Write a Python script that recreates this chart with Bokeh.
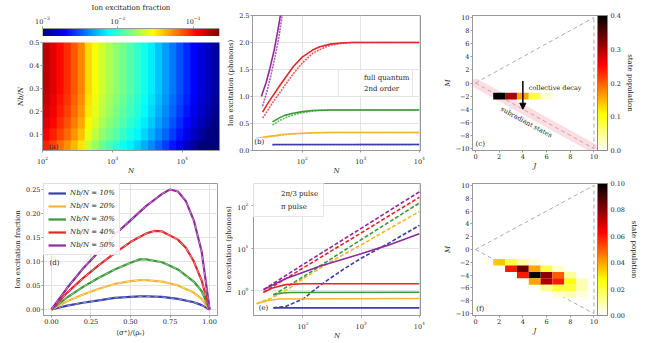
import numpy as np
from bokeh.plotting import figure
from bokeh.layouts import row, column
from bokeh.models import (ColorBar, LinearColorMapper, FixedTicker, LinearAxis, Label,
                          Arrow, NormalHead, Legend, LegendItem, CustomJSTickFormatter,
                          PrintfTickFormatter, Range1d, ColumnDataSource)
from bokeh.embed import file_html
from bokeh.resources import INLINE

# ------------------------------------------------------------------ data
# (a) log10(ion excitation fraction): profile read along N (log10 N bins 2.0..4.6),
#     and the shift of each N_b/N row
a_logN_lo, a_logN_hi = 2.0, 4.6
a_profile_top = [-0.80, -0.88, -0.97, -1.05, -1.15, -1.25, -1.44, -1.55, -1.65, -1.72,
                 -1.79, -1.86, -1.93, -2.00, -2.08, -2.16, -2.25, -2.34, -2.43, -2.52,
                 -2.61, -2.70, -2.78, -2.85, -2.91, -2.96]
a_NbN_rows = [0.05, 0.10, 0.15, 0.20, 0.25, 0.30, 0.35, 0.40, 0.45, 0.50]
a_row_offset = [-0.225, -0.135, -0.08, -0.045, -0.02, 0.0, 0.0, 0.0, 0.0, 0.0]
a_cbar_lo, a_cbar_hi = -3.0, -0.65

# (b) ion excitation (phonons) vs N: 2nd order (solid) and full quantum (dotted)
b_N_purple = [20, 24, 28, 33, 38, 43]
b_so_purple = [1.00, 1.25, 1.52, 1.85, 2.20, 2.55]
b_Nq_purple = [21, 25, 29, 34, 40, 46]
b_fq_purple = [0.82, 1.10, 1.38, 1.72, 2.10, 2.55]
b_N_red = [21, 25, 30, 40, 50, 70, 100, 150, 200, 300, 450, 700, 1000, 10000]
b_so_red = [0.71, 0.85, 0.98, 1.18, 1.33, 1.55, 1.73, 1.86, 1.92, 1.97, 1.99, 2.0, 2.0, 2.0]
b_fq_red = [0.60, 0.72, 0.86, 1.05, 1.20, 1.42, 1.62, 1.80, 1.87, 1.95, 1.98, 2.0, 2.0, 2.0]
b_N_green = [31, 40, 50, 70, 100, 150, 200, 300, 10000]
b_so_green = [0.53, 0.60, 0.65, 0.69, 0.72, 0.74, 0.745, 0.75, 0.75]
b_fq_green = [0.47, 0.55, 0.60, 0.66, 0.70, 0.73, 0.74, 0.75, 0.75]
b_N_orange = [16, 20, 25, 37, 50, 70, 100, 150, 300, 10000]
b_so_orange = [0.22, 0.24, 0.26, 0.28, 0.30, 0.31, 0.32, 0.33, 0.333, 0.333]
b_fq_orange = [0.19, 0.22, 0.24, 0.27, 0.29, 0.305, 0.315, 0.325, 0.333, 0.333]
b_N_blue = [31, 10000]
b_so_blue = [0.11, 0.11]
b_fq_blue = [0.105, 0.11]

# (c) state population, single row
c_J = [2, 3, 4, 5, 6]
c_M = [-2, -2, -2, -2, -2]
c_pop = [0.40, 0.30, 0.16, 0.08, 0.02]
J_max = 10

# (d) ion excitation fraction vs <sigma+>/rho_e
d_labels = ["Nb/N = 10%", "Nb/N = 20%", "Nb/N = 30%", "Nb/N = 40%", "Nb/N = 50%"]
d_x = [0.0, 0.1, 0.2, 0.3, 0.4, 0.5, 0.56, 0.6, 0.7, 0.8, 0.9, 0.95, 1.0]
d_blue = [0, 0.008, 0.014, 0.019, 0.024, 0.026, 0.027, 0.027, 0.026, 0.022, 0.015, 0.009, 0]
d_orange = [0, 0.017, 0.031, 0.043, 0.053, 0.059, 0.061, 0.061, 0.058, 0.050, 0.035, 0.022, 0]
d_green = [0, 0.025, 0.047, 0.066, 0.083, 0.097, 0.104, 0.104, 0.098, 0.083, 0.058, 0.038, 0]
d_x_red = [0.0, 0.1, 0.2, 0.3, 0.4, 0.5, 0.6, 0.65, 0.7, 0.8, 0.85, 0.9, 0.95, 1.0]
d_red = [0, 0.035, 0.065, 0.092, 0.117, 0.140, 0.158, 0.163, 0.162, 0.145, 0.128, 0.100, 0.060, 0]
d_x_purple = [0.0, 0.1, 0.2, 0.3, 0.4, 0.5, 0.6, 0.7, 0.75, 0.8, 0.85, 0.9, 0.95, 1.0]
d_purple = [0, 0.045, 0.085, 0.120, 0.155, 0.185, 0.215, 0.240, 0.249, 0.245, 0.225, 0.185, 0.120, 0]

# (e) ion excitation (phonons): 2pi/3 pulse (dashed) and pi pulse (solid)
e_N_dash_purple = [21, 100, 1000, 10000]
e_dash_purple = [1.05, 4.1, 29.5, 215]
e_N_pi_purple = [21, 50, 200, 1000, 3000, 10000]
e_pi_purple = [1.05, 1.9, 3.8, 7.4, 12.0, 21.9]
e_N_dash_red = [21, 100, 1000, 10000]
e_dash_red = [0.91, 3.4, 23, 160]
e_N_pi_red = [21, 30, 50, 100, 10000]
e_pi_red = [0.91, 1.15, 1.38, 1.45, 1.45]
e_N_dash_green = [31, 100, 1000, 10000]
e_dash_green = [0.78, 2.1, 16, 117]
e_N_pi_green = [31, 40, 60, 10000]
e_pi_green = [0.80, 0.86, 0.90, 0.91]
e_N_dash_orange = [16, 30, 55, 100, 300, 1000, 10000]
e_dash_orange = [0.49, 0.68, 1.07, 1.9, 4.8, 12, 74]
e_N_pi_orange = [16, 25, 40, 10000]
e_pi_orange = [0.49, 0.58, 0.63, 0.65]
e_N_dash_blue = [31, 50, 100, 200, 500, 1000, 3000, 10000]
e_dash_blue = [0.39, 0.42, 0.63, 1.35, 3.2, 5.8, 13.2, 34.7]
e_N_pi_blue = [31, 10000]
e_pi_blue = [0.39, 0.39]

# (f) state population
f_J = [2, 3, 4, 5,   3, 4, 5, 6, 7,   4, 5, 6, 7, 8,   5, 6, 7, 8, 9,   6, 7, 8, 9,   7, 8, 9]
f_M = [-2, -2, -2, -2, -3, -3, -3, -3, -3, -4, -4, -4, -4, -4, -5, -5, -5, -5, -5,
       -6, -6, -6, -6, -7, -7, -7]
f_pop = [0.035, 0.020, 0.010, 0.004,
         0.060, 0.085, 0.040, 0.020, 0.006,
         0.060, 0.100, 0.080, 0.050, 0.010,
         0.040, 0.075, 0.060, 0.025, 0.008,
         0.012, 0.020, 0.020, 0.008,
         0.005, 0.008, 0.004]

# ------------------------------------------------------------------ styles
FONT = "DejaVu Serif"
TXT = "#222222"
C_BLUE, C_ORANGE, C_GREEN, C_RED, C_PURPLE = "#3b3fa8", "#f2b630", "#3a9a3a", "#e0282c", "#8e2a9a"


def jet(t):
    r = np.clip(1.5 - abs(4 * t - 3), 0, 1)
    g = np.clip(1.5 - abs(4 * t - 2), 0, 1)
    b = np.clip(1.5 - abs(4 * t - 1), 0, 1)
    return "#%02x%02x%02x" % (int(r * 255), int(g * 255), int(b * 255))


def hot_r(t):
    s = 1 - t
    r = np.clip(s / 0.365, 0, 1)
    g = np.clip((s - 0.365) / 0.365, 0, 1)
    b = np.clip((s - 0.73) / 0.27, 0, 1)
    return "#%02x%02x%02x" % (int(r * 255), int(g * 255), int(b * 255))


JET = [jet(t) for t in np.linspace(0, 1, 256)]
HOTR = [hot_r(t) for t in np.linspace(0, 1, 256)]


def minus_fmt():
    return CustomJSTickFormatter(code="return tick < 0 ? '\\u2212' + Math.abs(tick) : '' + tick;")


def style_axis(ax):
    ax.major_label_text_font = FONT
    ax.major_label_text_font_size = "6.5px"
    ax.major_label_text_color = TXT
    ax.axis_label_text_font = FONT
    ax.axis_label_text_font_size = "7px"
    ax.axis_label_text_font_style = "normal"
    ax.axis_label_text_color = TXT
    ax.major_tick_out = 2
    ax.major_tick_in = 0
    ax.minor_tick_line_color = None
    ax.axis_line_color = "#999999"
    ax.major_tick_line_color = "#999999"
    ax.major_label_standoff = 1
    ax.axis_label_standoff = 1


def style(p, grid=True, outline="#999999", xlab_standoff=0):
    p.outline_line_color = outline
    p.background_fill_color = "white"
    p.border_fill_color = "white"
    for ax in p.axis:
        style_axis(ax)
    for ax in p.below:
        ax.axis_label_standoff = xlab_standoff
    if grid:
        p.grid.grid_line_color = "#e3e3e3"
    else:
        p.grid.visible = False


def fig(w, h, l, r, t, b, **kw):
    return figure(width=w, height=h, min_border_left=l, min_border_right=r,
                  min_border_top=t, min_border_bottom=b, toolbar_location=None,
                  output_backend="svg", **kw)


def label(p, x, y, text, bg=None, **kw):
    lab = Label(x=x, y=y, text=text, text_font=FONT, text_font_size="7px",
                text_color=TXT, text_align="center", text_baseline="middle", **kw)
    if bg:
        lab.background_fill_color = bg
        lab.background_fill_alpha = 1.0
    p.add_layout(lab)


def legend(p, items, location, gh=9, sp=2, pad=3, **kw):
    lg = Legend(items=items, location=location, label_text_font=FONT,
                label_text_font_size="7px", label_text_color=TXT, glyph_width=18,
                glyph_height=gh, label_height=gh, spacing=sp, padding=pad, margin=0,
                label_standoff=4, border_line_color="#cccccc", background_fill_alpha=0.9, **kw)
    p.add_layout(lg)


W1, W2, W3 = 222, 218, 215
ROW1, ROW2 = 177, 165

# ------------------------------------------------------------------ (a)
jet_mapper = LinearColorMapper(palette=JET, low=a_cbar_lo, high=a_cbar_hi)
CB_H = 36
p_cb = fig(W1, CB_H, 42, 3, 0, 0, x_axis_type="log",
           x_range=Range1d(10 ** a_cbar_lo, 10 ** a_cbar_hi), y_range=Range1d(0, 1),
           x_axis_location="above")
grad = np.linspace(a_cbar_lo, a_cbar_hi, 256).reshape(1, -1)
p_cb.image(image=[grad], x=10 ** a_cbar_lo, y=0, dw=10 ** a_cbar_hi - 10 ** a_cbar_lo, dh=1,
           color_mapper=jet_mapper)
p_cb.yaxis.visible = False
p_cb.xaxis.axis_label = "Ion excitation fraction"
style(p_cb, grid=False, outline=None)

field = np.array([[v + off for v in a_profile_top] for off in a_row_offset])
p_a = fig(W1, ROW1 - CB_H, 42, 3, 6, 22, x_axis_type="log",
          x_range=Range1d(10 ** a_logN_lo, 10 ** 4.53), y_range=Range1d(0.03, 0.5))
p_a.image(image=[field], x=10 ** a_logN_lo, y=a_NbN_rows[0] - 0.025,
          dw=10 ** a_logN_hi - 10 ** a_logN_lo, dh=0.5, color_mapper=jet_mapper)
p_a.yaxis.ticker = FixedTicker(ticks=[0.1, 0.2, 0.3, 0.4, 0.5])
p_a.yaxis.formatter = PrintfTickFormatter(format="%.1f")
p_a.xaxis.axis_label = "N"
p_a.yaxis.axis_label = "Nb/N"
style(p_a, grid=False, outline=None)
p_a.xaxis.axis_label_text_font_style = "italic"
p_a.yaxis.axis_label_text_font_style = "italic"
label(p_a, 10 ** 2.16, 0.045, "(a)")

# ------------------------------------------------------------------ (b)
p_b = fig(W2, ROW1, 30, 20, 15, 22, x_axis_type="log",
          x_range=Range1d(10 ** 1.15, 10 ** 4.02), y_range=Range1d(0, 2.5))
b_series = [
    (b_N_blue, b_so_blue, b_N_blue, b_fq_blue, C_BLUE),
    (b_N_orange, b_so_orange, b_N_orange, b_fq_orange, C_ORANGE),
    (b_N_green, b_so_green, b_N_green, b_fq_green, C_GREEN),
    (b_N_red, b_so_red, b_N_red, b_fq_red, C_RED),
    (b_N_purple, b_so_purple, b_Nq_purple, b_fq_purple, C_PURPLE),
]
for xs, ys, xq, yq, col in b_series:
    p_b.line(xs, ys, color=col, line_width=1.6)
    p_b.line(xq, yq, color=col, line_width=1.6, line_dash="2 1", line_alpha=0.75)
r_fq = p_b.line([], [], color="#b07ab0", line_width=1.4, line_dash="2 1")
r_so = p_b.line([], [], color="#444444", line_width=1.6)
legend(p_b, [LegendItem(label="full quantum", renderers=[r_fq]),
             LegendItem(label="2nd order", renderers=[r_so])], (86, 53))
p_b.yaxis.ticker = FixedTicker(ticks=[0, 0.5, 1.0, 1.5, 2.0, 2.5])
p_b.yaxis.formatter = PrintfTickFormatter(format="%.1f")
p_b.xaxis.axis_label = "N"
p_b.yaxis.axis_label = "Ion excitation (phonons)"
style(p_b)
p_b.xaxis.axis_label_text_font_style = "italic"
label(p_b, 18.4, 0.16, "(b)", bg="white")


# ------------------------------------------------------------------ (c) and (f)
def spin_panel(h, t, b, J, M, pop, high, ticks, fmt, tag, extra=False):
    p = fig(W3, h, 25, 58, t, b, x_range=Range1d(-0.25, J_max + 0.3),
            y_range=Range1d(-J_max - 0.3, J_max + 0.3))
    p.line([0, J_max], [0, J_max], color="#aaaaaa", line_dash="4 3", line_width=1)
    p.line([0, J_max], [0, -J_max], color="#aaaaaa", line_dash="4 3", line_width=1)
    p.line([J_max, J_max], [-J_max, J_max], color="#aaaaaa", line_dash="4 3", line_width=1)
    mapper = LinearColorMapper(palette=HOTR, low=0, high=high)
    if extra:
        p.line([0, J_max], [0, -J_max], color="#f2a0b0", line_width=9, line_alpha=0.35,
               line_cap="round")
    src = ColumnDataSource(dict(J=J, M=M, pop=pop))
    p.rect(x="J", y="M", width=1, height=1, source=src, line_color=None,
           fill_color={"field": "pop", "transform": mapper})
    p.xaxis[0].ticker = FixedTicker(ticks=[0, 2, 4, 6, 8, 10])
    p.yaxis[0].ticker = FixedTicker(ticks=list(range(-10, 11, 2)))
    p.yaxis[0].formatter = minus_fmt()
    p.xaxis[0].axis_label = "J"
    p.yaxis[0].axis_label = "M"
    style(p, grid=False)
    p.xaxis[0].axis_label_text_font_style = "italic"
    p.yaxis[0].axis_label_text_font_style = "italic"
    cb = ColorBar(color_mapper=mapper, ticker=FixedTicker(ticks=ticks), width=10,
                  padding=0, margin=15, label_standoff=3, major_label_text_font=FONT,
                  major_label_text_font_size="6.5px", major_label_text_color=TXT,
                  formatter=PrintfTickFormatter(format=fmt),
                  major_tick_line_color=None, bar_line_color="#888888", location=(0, 0))
    p.add_layout(cb, "right")
    tax = LinearAxis(ticker=FixedTicker(ticks=[]), axis_label="state population")
    style_axis(tax)
    tax.axis_line_color = None
    tax.major_tick_line_color = None
    tax.major_label_text_font_size = "0px"
    tax.axis_label_standoff = 2
    p.add_layout(tax, "right")
    label(p, 0.4, -9.3, tag)
    return p


p_c = spin_panel(ROW1, 15, 24, c_J, c_M, c_pop, 0.4, [0, 0.1, 0.2, 0.3, 0.4], "%.1f", "(c)",
                 extra=True)
p_c.add_layout(Arrow(end=NormalHead(size=6, fill_color="black", line_color="black"),
                     x_start=4, y_start=0.3, x_end=4, y_end=-4, line_width=1.5))
p_c.add_layout(Label(x=4.5, y=-0.7, text="collective decay", text_font=FONT,
                     text_font_size="6.5px", text_color=TXT, text_align="left",
                     text_baseline="middle"))
p_c.add_layout(Label(x=4.3, y=-6.0, text="subradiant states", text_font=FONT,
                     text_font_size="6.5px", text_color=TXT, text_align="center",
                     text_baseline="middle", angle=-0.5))

p_f = spin_panel(ROW2, 6, 19, f_J, f_M, f_pop, 0.10, [0, 0.02, 0.04, 0.06, 0.08, 0.10],
                 "%.2f", "(f)")

# ------------------------------------------------------------------ (d)
p_d = fig(W1, ROW2, 43, 5, 6, 16, x_range=Range1d(-0.05, 1.05),
          y_range=Range1d(-0.0125, 0.2615))
d_series = [(d_x, d_blue, C_BLUE), (d_x, d_orange, C_ORANGE), (d_x, d_green, C_GREEN),
            (d_x_red, d_red, C_RED), (d_x_purple, d_purple, C_PURPLE)]
d_items = []
for (xs, ys, col), lab in zip(d_series, d_labels):
    r = p_d.line(xs, ys, color=col, line_width=2.2)
    p_d.line(xs, ys, color="white", line_width=0.8, line_dash="4 4", line_alpha=0.55)
    d_items.append(LegendItem(label=lab, renderers=[r]))
legend(p_d, d_items, "top_left", gh=10, sp=3, pad=4, label_text_font_style="italic")
p_d.xaxis.ticker = FixedTicker(ticks=[0, 0.25, 0.5, 0.75, 1.0])
p_d.yaxis.ticker = FixedTicker(ticks=[0, 0.05, 0.10, 0.15, 0.20, 0.25])
p_d.xaxis.formatter = PrintfTickFormatter(format="%.2f")
p_d.yaxis.formatter = PrintfTickFormatter(format="%.2f")
p_d.xaxis.axis_label = "⟨σ⁺⟩/⟨ρₑ⟩"
p_d.yaxis.axis_label = "Ion excitation fraction"
style(p_d, xlab_standoff=2)
label(p_d, 0.02, 0.096, "(d)")

# ------------------------------------------------------------------ (e)
p_e = fig(W2, ROW2, 31, 20, 6, 17, x_axis_type="log", y_axis_type="log",
          x_range=Range1d(10 ** 1.15, 10 ** 4.02), y_range=Range1d(10 ** -0.59, 10 ** 2.53))
e_series = [
    (e_N_pi_blue, e_pi_blue, e_N_dash_blue, e_dash_blue, C_BLUE),
    (e_N_pi_orange, e_pi_orange, e_N_dash_orange, e_dash_orange, C_ORANGE),
    (e_N_pi_green, e_pi_green, e_N_dash_green, e_dash_green, C_GREEN),
    (e_N_pi_red, e_pi_red, e_N_dash_red, e_dash_red, C_RED),
    (e_N_pi_purple, e_pi_purple, e_N_dash_purple, e_dash_purple, C_PURPLE),
]
for xs, ys, xd, yd, col in e_series:
    p_e.line(xs, ys, color=col, line_width=1.6)
    p_e.line(xd, yd, color=col, line_width=1.6, line_dash="4 2")
r_d = p_e.line([], [], color="#333333", line_width=1.6, line_dash="4 2")
r_s = p_e.line([], [], color="#666666", line_width=1.6)
legend(p_e, [LegendItem(label="2π/3 pulse", renderers=[r_d]),
             LegendItem(label="π pulse", renderers=[r_s])], "top_left", sp=4, pad=5)
p_e.xaxis.axis_label = "N"
p_e.yaxis.axis_label = "Ion excitation (phonons)"
style(p_e)
p_e.xaxis.axis_label_text_font_style = "italic"
label(p_e, 21, 0.38, "(e)", bg="white")

# ------------------------------------------------------------------ layout
layout = column(row(column(p_cb, p_a), p_b, p_c), row(p_d, p_e, p_f))
open("out.html", "w").write(file_html(layout, INLINE))
